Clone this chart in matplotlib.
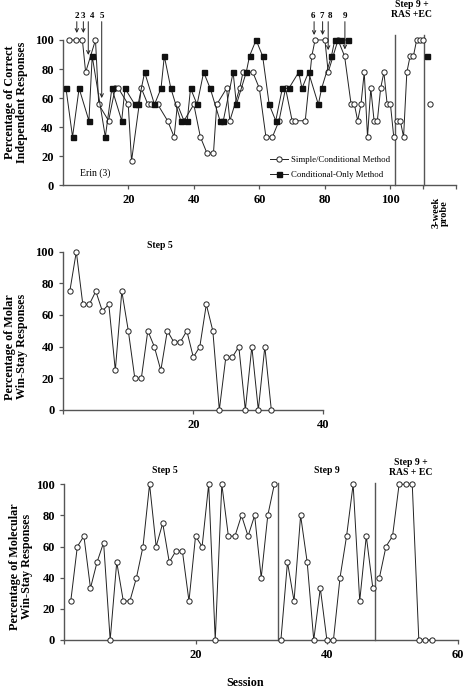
import matplotlib.pyplot as plt

plt.rcParams['font.family'] = ['Liberation Serif', 'DejaVu Serif']

# --- top panel: Erin (3), percentage correct ---
sc_sessions = [2, 4, 6, 7, 10, 11, 14, 16, 17, 20, 21, 24, 26, 27, 29, 32, 34, 35, 37, 40,
               42, 44, 46, 47, 50, 51, 54, 55, 58, 60, 62, 64, 66, 68, 70, 71, 74, 76, 77, 80,
               81, 84, 86, 88, 89, 90, 91, 92, 93, 94, 95, 96, 97, 98, 99, 100, 101]
sc_values = [100, 100, 100, 77.8, 100, 55.6, 44.4, 66.7, 66.7, 55.6, 16.7, 66.7, 55.6, 55.6, 55.6, 44.4, 33.3, 55.6, 44.4, 55.6,
             33.3, 22.2, 22.2, 55.6, 66.7, 44.4, 66.7, 77.8, 77.8, 66.7, 33.3, 33.3, 44.4, 66.7, 44.4, 44.4, 44.4, 88.9, 100, 100,
             77.8, 100, 88.9, 55.6, 55.6, 44.4, 55.6, 77.8, 33.3, 66.7, 44.4, 44.4, 66.7, 77.8, 55.6, 55.6, 33.3]
co_sessions = [1, 3, 5, 8, 9, 13, 15, 18, 19, 22, 23, 25, 28, 30, 31, 33, 36, 38, 39, 41,
               43, 45, 48, 49, 52, 53, 56, 57, 59, 61, 63, 65, 67, 69, 72, 73, 75, 78, 79, 82,
               83, 85, 87]
co_values = [66.7, 33.3, 66.7, 44.4, 88.9, 33.3, 66.7, 44.4, 66.7, 55.6, 55.6, 77.8, 55.6, 66.7, 88.9, 66.7, 44.4, 44.4, 66.7, 55.6,
             77.8, 66.7, 44.4, 44.4, 77.8, 55.6, 77.8, 88.9, 100, 88.9, 55.6, 44.4, 66.7, 66.7, 77.8, 66.7, 77.8, 55.6, 66.7, 88.9,
             100, 100, 100]
ras_sessions = [102, 103, 104, 105, 106, 107, 108, 109, 110]
ras_values = [44.4, 44.4, 33.3, 77.8, 88.9, 88.9, 100, 100, 100]
probe_sc = ([112], [55.6])
probe_co = ([111], [88.9])
top_phase_lines = [101.5, 110.2]
# arrow label, label x, arrow x, arrow tip value
step_arrows = [("2", 4.3, 4.3, 104.8), ("3", 6.3, 6.3, 104.8), ("4", 8.9, 7.8, 89.7),
               ("5", 11.9, 11.9, 60.0), ("6", 76.4, 76.7, 103.4), ("7", 79.0, 79.3, 103.4),
               ("8", 81.6, 81.0, 93.0), ("9", 86.1, 86.1, 93.5)]

# --- middle panel: molar win-stay ---
molar_sessions = list(range(1, 33))
molar_values = [75, 100, 66.7, 66.7, 75, 62.5, 66.7, 25, 75, 50, 20, 20, 50, 40, 25, 50,
                42.9, 42.9, 50, 33.3, 40, 66.7, 50, 0, 33.3, 33.3, 40, 0, 40, 0, 40, 0]

# --- bottom panel: molecular win-stay ---
mol5_sessions = list(range(1, 33))
mol5_values = [25, 60, 66.7, 33.3, 50, 62.5, 0, 50, 25, 25, 40, 60, 100, 60, 75, 50,
               57.1, 57.1, 25, 66.7, 60, 100, 0, 100, 66.7, 66.7, 80, 66.7, 80, 40, 80, 100]
mol9_sessions = list(range(33, 48))
mol9_values = [0, 50, 25, 80, 50, 0, 33.3, 0, 0, 40, 66.7, 100, 25, 66.7, 33.3]
molras_sessions = list(range(48, 57))
molras_values = [40, 60, 66.7, 100, 100, 100, 0, 0, 0]
bottom_phase_lines = [32.5, 47.4]

LINE = '#222222'
AX = '#555555'


def open_series(ax, x, y):
    ax.plot(x, y, '-o', color=LINE, lw=0.7, ms=3.8, mfc='white', mec=LINE, mew=0.7,
            clip_on=False, zorder=3)


def style_axes(ax):
    for s in ['top', 'right']:
        ax.spines[s].set_visible(False)
    for s in ['left', 'bottom']:
        ax.spines[s].set_color(AX)
        ax.spines[s].set_linewidth(1.0)
    ax.tick_params(colors=AX, length=3, width=0.9, labelsize=9, labelcolor='black')
    for lab in ax.get_xticklabels() + ax.get_yticklabels():
        lab.set_fontweight('bold')
    ax.set_yticks([0, 20, 40, 60, 80, 100])
    ax.set_ylim(0, 100)


fig = plt.figure(figsize=(4.69, 6.88), dpi=100)

# ---------- top ----------
ax1 = fig.add_axes([0.1337, 0.7307, 0.8386, 0.2112])
ax1.plot(sc_sessions, sc_values, '-o', color=LINE, lw=0.7, ms=3.8, mfc='white', mec=LINE,
         mew=0.7, clip_on=False, zorder=3, label='Simple/Conditional Method')
ax1.plot(co_sessions, co_values, '-s', color=LINE, lw=0.7, ms=3.6, mfc='#111111', mec='#111111',
         clip_on=False, zorder=3, label='Conditional-Only Method')
open_series(ax1, ras_sessions, ras_values)
open_series(ax1, *probe_sc)
ax1.plot(*probe_co, 's', ms=3.6, color='#111111', clip_on=False, zorder=3)
for xl in top_phase_lines:
    ax1.plot([xl, xl], [0, 103.4], color=AX, lw=1.0, clip_on=False)
ax1.set_xlim(0, 120)
ax1.set_xticks([20, 40, 60, 80, 100, 110, 120])
ax1.set_xticklabels(['20', '40', '60', '80', '100', '', ''])
style_axes(ax1)
ax1.set_ylabel('Percentage of Correct\nIndependent Responses', fontsize=8.7,
               fontweight='bold', linespacing=1.0)
ax1.yaxis.set_label_coords(-0.088, 0.57)
ax1.text(115.2, -19, '3-week\nprobe', rotation=90, ha='center', va='center',
         fontsize=7.5, fontweight='bold', linespacing=1.0)
ax1.text(106.4, 121, 'Step 9 +\nRAS +EC', ha='center', va='center', fontsize=7,
         fontweight='bold', linespacing=1.1)
ax1.text(5.2, 8.5, 'Erin (3)', ha='left', va='center', fontsize=7)
for lab, lx, ax_x, tip in step_arrows:
    ax1.text(lx, 116.5, lab, ha='center', va='center', fontsize=6.5, fontweight='bold')
    ax1.annotate('', xy=(ax_x, tip), xytext=(ax_x, 112.6),
                 arrowprops=dict(arrowstyle='->', lw=0.7, color=LINE,
                                 shrinkA=0, shrinkB=0, mutation_scale=6),
                 annotation_clip=False)
ax1.legend(loc='upper left', bbox_to_anchor=(0.527, 0.205), frameon=False, fontsize=6.3,
           handlelength=2.1, handletextpad=0.35, labelspacing=0.8, borderpad=0,
           borderaxespad=0)

# ---------- middle ----------
ax2 = fig.add_axes([0.135, 0.4041, 0.5544, 0.2301])
open_series(ax2, molar_sessions, molar_values)
ax2.set_xlim(0, 40)
ax2.set_xticks([0, 20, 40])
ax2.set_xticklabels(['', '20', '40'])
style_axes(ax2)
ax2.set_ylabel('Percentage of Molar\nWin-Stay Responses', fontsize=8.7,
               fontweight='bold', linespacing=1.0)
ax2.yaxis.set_label_coords(-0.136, 0.40)
ax2.text(14.9, 104, 'Step 5', ha='center', va='center', fontsize=7, fontweight='bold')

# ---------- bottom ----------
ax3 = fig.add_axes([0.1369, 0.0698, 0.8401, 0.2263])
open_series(ax3, mol5_sessions, mol5_values)
open_series(ax3, mol9_sessions, mol9_values)
open_series(ax3, molras_sessions, molras_values)
for xl in bottom_phase_lines:
    ax3.plot([xl, xl], [0, 101], color=AX, lw=1.0, clip_on=False)
ax3.set_xlim(0, 60)
ax3.set_xticks([0, 20, 40, 60])
ax3.set_xticklabels(['', '20', '40', '60'])
style_axes(ax3)
ax3.set_ylabel('Percentage of Molecular\nWin-Stay Responses', fontsize=8.7,
               fontweight='bold', linespacing=1.0)
ax3.yaxis.set_label_coords(-0.079, 0.47)
ax3.set_xlabel('Session', fontsize=8.7, fontweight='bold')
ax3.xaxis.set_label_coords(0.46, -0.235)
ax3.text(15.3, 109, 'Step 5', ha='center', va='center', fontsize=7, fontweight='bold')
ax3.text(40, 109, 'Step 9', ha='center', va='center', fontsize=7, fontweight='bold')
ax3.text(52.8, 111, 'Step 9 +\nRAS + EC', ha='center', va='center', fontsize=7,
         fontweight='bold', linespacing=1.1)

fig.savefig('out.png', dpi=100)
